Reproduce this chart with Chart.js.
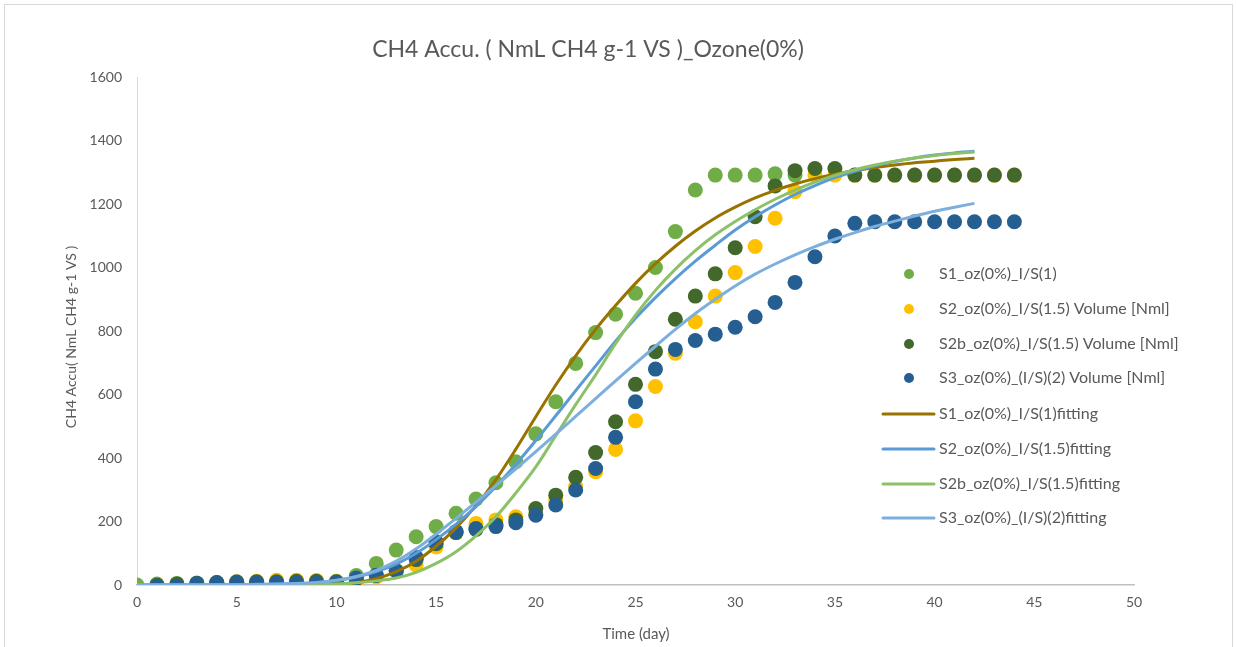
<!DOCTYPE html>
<html>
<head>
<meta charset="utf-8">
<title>CH4 Accu. Ozone(0%)</title>
<script src="https://cdn.jsdelivr.net/npm/chart.js@4.4.1/dist/chart.umd.min.js"></script>
<style>
  html, body { margin: 0; padding: 0; background: #ffffff; }
  canvas { display: block; }
</style>
</head>
<body>
<canvas id="c" width="1236" height="647"></canvas>
<script>
// Measured cumulative methane, one value per day (null = no reading)
const DAYS = [0,1,2,3,4,5,6,7,8,9,10,11,12,13,14,15,16,17,18,19,20,21,22,23,24,25,26,27,28,29,30,31,32,33,34,35,36,37,38,39,40,41,42,43,44];

const S1 = [0,3,5,6,7,8,9,10,10,11,12,30,68,110,152,184,226,271,322,388,476,577,698,795,853,919,1000,1113,1244,1291,1291,1291,1295,1291];

const S2 = [null,0,0,-3,5,8,12,15,15,14,10,12,25,45,63,120,165,194,205,215,225,265,310,357,427,517,625,730,829,910,984,1066,1155,1239,1291,1291,1291,1291,1291,1291,1291,1291,1291,1291,1291];

const S2B = [null,0,3,5,8,10,10,10,12,12,10,20,30,45,80,130,165,175,190,205,241,283,339,417,514,632,735,837,910,980,1062,1160,1257,1305,1312,1312,1291,1291,1291,1291,1291,1291,1291,1291,1291];

const S3 = [null,-3,-3,5,7,7,7,7,7,7,7,22,31,45,87,136,168,178,184,196,220,252,299,367,465,577,680,742,770,790,812,845,890,953,1034,1099,1139,1144,1144,1144,1144,1144,1144,1144,1144];

// Fitted curves, sampled once per day
const FIT_DAYS = [0,1,2,3,4,5,6,7,8,9,10,11,12,13,14,15,16,17,18,19,20,21,22,23,24,25,26,27,28,29,30,31,32,33,34,35,36,37,38,39,40,41,42];

const FIT_S1 = [0,0,0,0,0,0,0,0,1,1,3,8,20,42,75,122,180,250,332,428,530,630,722,805,880,950,1012,1067,1115,1156,1190,1219,1243,1263,1280,1294,1305,1315,1323,1330,1335,1340,1344];

const FIT_S2 = [0,0,0,0,0,0,1,2,4,7,14,25,42,66,100,143,192,247,310,380,455,533,612,690,768,840,905,965,1020,1070,1118,1160,1197,1230,1258,1283,1303,1320,1334,1345,1354,1361,1366];

const FIT_S2B = [0,0,0,0,0,0,0,0,0,1,3,7,13,22,40,68,105,155,215,290,372,470,568,662,760,850,928,995,1053,1103,1145,1182,1215,1244,1269,1290,1308,1323,1335,1345,1353,1359,1364];

const FIT_S3 = [0,0,0,0,1,1,2,3,5,8,15,27,46,75,114,160,210,261,313,366,420,475,531,587,643,698,752,805,855,900,942,979,1011,1040,1066,1089,1110,1129,1146,1162,1177,1190,1202];

const X_TICKS = [0,5,10,15,20,25,30,35,40,45,50];
const Y_TICKS = [0,200,400,600,800,1000,1200,1400,1600];

const TITLE = 'CH4 Accu. ( NmL CH4 g-1 VS )_Ozone(0%)';
const X_TITLE = 'Time (day)';
const Y_TITLE = 'CH4 Accu( NmL CH4 g-1 VS )';

const LABELS = [
  'S1_oz(0%)_I/S(1)',
  'S2_oz(0%)_I/S(1.5) Volume [Nml]',
  'S2b_oz(0%)_I/S(1.5) Volume [Nml]',
  'S3_oz(0%)_(I/S)(2) Volume [Nml]',
  'S1_oz(0%)_I/S(1)fitting',
  'S2_oz(0%)_I/S(1.5)fitting',
  'S2b_oz(0%)_I/S(1.5)fitting',
  'S3_oz(0%)_(I/S)(2)fitting'
];

const FONT = 'Lato, "Open Sans", sans-serif';
const TEXT = '#595959';

function pairs(xs, ys) {
  const out = [];
  for (let i = 0; i < ys.length; i++) {
    if (ys[i] !== null && ys[i] !== undefined) out.push({ x: xs[i], y: ys[i] });
  }
  return out;
}

function dots(label, ys, color, order) {
  return {
    type: 'scatter', label, data: pairs(DAYS, ys), order,
    showLine: false, pointRadius: 7.5, pointHoverRadius: 7.5,
    pointBackgroundColor: color, pointBorderWidth: 0, borderColor: color, backgroundColor: color
  };
}

function curve(label, ys, color, order) {
  return {
    type: 'line', label, data: pairs(FIT_DAYS, ys), order,
    showLine: true, pointRadius: 0, borderColor: color, backgroundColor: color,
    borderWidth: 3, cubicInterpolationMode: 'monotone', fill: false
  };
}

const datasets = [
  dots(LABELS[0], S1, '#70AD47', 8),
  dots(LABELS[1], S2, '#FFC000', 7),
  dots(LABELS[2], S2B, '#43682B', 6),
  dots(LABELS[3], S3, '#255E91', 5),
  curve(LABELS[4], FIT_S1, '#997300', 4),
  curve(LABELS[5], FIT_S2, '#5B9BD5', 3),
  curve(LABELS[6], FIT_S2B, '#8CC168', 2),
  curve(LABELS[7], FIT_S3, '#7CAFDD', 1)
];

// Frame, titles and the legend block inside the plot
const decorations = {
  id: 'decorations',
  beforeDraw(chart) {
    const ctx = chart.ctx;
    ctx.save();
    ctx.fillStyle = '#ffffff';
    ctx.fillRect(0, 0, chart.width, chart.height);
    ctx.strokeStyle = '#D9D9D9';
    ctx.lineWidth = 1;
    ctx.strokeRect(4.5, 4.5, 1228, 700);
    ctx.restore();
  },
  afterDraw(chart) {
    const ctx = chart.ctx;
    ctx.save();
    ctx.fillStyle = TEXT;
    ctx.textBaseline = 'middle';
    ctx.textAlign = 'center';
    ctx.font = '23px ' + FONT;
    ctx.fillText(TITLE, 588, 50);
    ctx.font = '15px ' + FONT;
    ctx.fillText(X_TITLE, 636, 634);
    ctx.font = '14px ' + FONT;
    ctx.save();
    ctx.translate(71, 337);
    ctx.rotate(-Math.PI / 2);
    ctx.fillText(Y_TITLE, 0, 0);
    ctx.restore();

    // legend
    ctx.textAlign = 'left';
    ctx.font = '16px ' + FONT;
    const rows = [274, 309, 344, 378, 414, 449, 484, 518];
    chart.data.datasets.forEach((ds, i) => {
      const y = rows[i];
      if (ds.type === 'scatter') {
        ctx.fillStyle = ds.pointBackgroundColor;
        ctx.beginPath();
        ctx.arc(909, y, 5, 0, Math.PI * 2);
        ctx.fill();
      } else {
        ctx.strokeStyle = ds.borderColor;
        ctx.lineWidth = 3;
        ctx.lineCap = 'round';
        ctx.beginPath();
        ctx.moveTo(883, y);
        ctx.lineTo(934, y);
        ctx.stroke();
      }
      ctx.fillStyle = TEXT;
      ctx.fillText(ds.label, 939, y);
    });
    ctx.restore();
  }
};

new Chart(document.getElementById('c'), {
  type: 'scatter',
  data: { datasets },
  options: {
    responsive: false,
    animation: false,
    events: [],
    layout: { padding: { left: 0, right: 102, top: 77, bottom: 0 } },
    plugins: { legend: { display: false }, title: { display: false }, tooltip: { enabled: false } },
    scales: {
      x: {
        type: 'linear', min: 0, max: 50,
        afterFit(scale) { scale.height = 62; },
        afterBuildTicks(scale) { scale.ticks = X_TICKS.map(v => ({ value: v })); },
        grid: { display: false, drawTicks: false },
        border: { display: true, color: '#BFBFBF', width: 1.5 },
        ticks: { color: TEXT, font: { family: FONT, size: 14 }, padding: 9, maxRotation: 0,
                 callback: (v) => String(v) }
      },
      y: {
        type: 'linear', min: 0, max: 1600,
        afterFit(scale) { scale.width = 137; },
        afterBuildTicks(scale) { scale.ticks = Y_TICKS.map(v => ({ value: v })); },
        grid: { display: false, drawTicks: false },
        border: { display: true, color: '#D9D9D9', width: 1 },
        ticks: { color: TEXT, font: { family: FONT, size: 14 }, padding: 15,
                 callback: (v) => String(v) }
      }
    }
  },
  plugins: [decorations]
});
</script>
</body>
</html>
